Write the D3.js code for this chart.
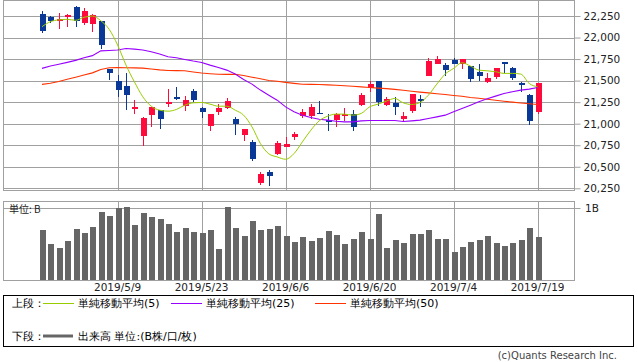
<!DOCTYPE html>
<html>
<head>
<meta charset="utf-8">
<script src="https://cdn.jsdelivr.net/npm/d3@7"></script>
<style>
  body { margin: 0; background: #fff; }
  svg { display: block; }
  text { font-family: "DejaVu Sans", sans-serif; }
  .jp { font-family: "Noto Sans CJK JP", sans-serif; }
</style>
</head>
<body>
<div id="chart"></div>
<script>
// trading days 2019/4/18 - 2019/7/19
var dates = ['4/18','4/19','4/22','4/23','4/24','4/25','4/26','5/7','5/8','5/9',
  '5/10','5/13','5/14','5/15','5/16','5/17','5/20','5/21','5/22','5/23',
  '5/24','5/27','5/28','5/29','5/30','5/31','6/3','6/4','6/5','6/6',
  '6/7','6/10','6/11','6/12','6/13','6/14','6/17','6/18','6/19','6/20',
  '6/21','6/24','6/25','6/26','6/27','6/28','7/1','7/2','7/3','7/4',
  '7/5','7/8','7/9','7/10','7/11','7/12','7/16','7/17','7/18','7/19'];

var opens = [22273,22235,22188,22235,22358,22172,22160,22192,21634,21498,
  21436,21169,20855,21099,21157,21243,21308,21211,21382,21184,
  20975,21138,21177,21052,20870,20785,20308,20436,20653,20727,
  20843,21087,21091,21128,21041,21041,21099,21111,21215,21409,
  21490,21215,21242,21056,21149,21285,21556,21692,21680,21738,
  21692,21669,21603,21483,21544,21715,21645,21469,21331,21138];
var highs = [22308,22250,22281,22273,22370,22343,22273,22192,21634,21564,
  21584,21273,21079,21195,21157,21401,21424,21320,21405,21195,
  21111,21227,21297,21072,20936,20816,20440,20463,20800,20847,
  20901,21169,21227,21258,21111,21126,21177,21157,21355,21494,
  21494,21312,21304,21130,21343,21331,21762,21785,21707,21762,
  21746,21669,21688,21587,21645,21715,21661,21486,21343,21474];
var lows = [22056,22165,22095,22119,22119,22149,22067,21870,21506,21312,
  21157,21110,20742,20963,20936,21195,21273,21149,21253,21068,
  20917,21099,21169,20870,20800,20567,20288,20273,20634,20727,
  20816,21068,21056,21110,20917,20963,21033,20917,21203,21370,
  21203,21203,21099,21033,21119,21195,21556,21692,21552,21692,
  21634,21483,21498,21471,21518,21584,21506,21370,20983,21110];
var closes = [22079,22195,22211,22262,22195,22308,22262,21916,21591,21393,
  21335,21195,21068,21195,21052,21250,21281,21273,21273,21134,
  21111,21184,21265,20998,20936,20591,20416,20390,20777,20770,
  20878,21130,21195,21124,21026,21111,21111,20963,21328,21459,
  21253,21281,21188,21087,21343,21277,21727,21746,21622,21692,
  21746,21518,21552,21525,21645,21688,21533,21465,21033,21467];

var ma5 = [22126,22184,22205,22211,22200,22235,22250,22195,22095,21913,
  21680,21486,21312,21203,21157,21145,21165,21215,21242,21246,
  21227,21203,21203,21157,21099,20963,20770,20650,20614,20587,
  20653,20789,20924,21033,21087,21111,21111,21099,21119,21195,
  21227,21262,21293,21242,21223,21246,21331,21459,21576,21642,
  21707,21669,21622,21614,21603,21584,21584,21576,21467,21428];
var ma25 = [21642,21670,21690,21712,21735,21765,21790,21845,21850,21855,
  21872,21866,21855,21835,21808,21777,21765,21746,21727,21711,
  21680,21653,21622,21576,21514,21459,21390,21331,21273,21195,
  21138,21099,21072,21052,21041,21029,21021,21021,21033,21037,
  21037,21037,21037,21025,21033,21041,21060,21079,21099,21138,
  21177,21215,21254,21289,21320,21351,21370,21390,21401,21421];
var ma50 = [21456,21470,21490,21515,21540,21565,21590,21630,21650,21652,
  21650,21648,21645,21635,21625,21618,21616,21614,21600,21588,
  21580,21574,21572,21574,21560,21540,21522,21502,21492,21480,
  21468,21458,21456,21454,21450,21446,21440,21434,21427,21420,
  21413,21407,21398,21388,21376,21366,21358,21348,21338,21328,
  21318,21304,21295,21284,21272,21260,21250,21240,21232,21223];

// volume, unit B
var volumes = [0.702,0.502,0.451,0.544,0.716,0.656,0.739,0.953,0.897,1.004,
  1.018,0.767,0.939,0.883,0.851,0.781,0.674,0.725,0.674,0.660,
  0.702,0.437,1.018,0.725,0.614,0.823,0.702,0.716,0.753,0.614,
  0.530,0.600,0.544,0.586,0.683,0.628,0.502,0.572,0.669,0.572,
  0.921,0.446,0.558,0.516,0.642,0.642,0.697,0.572,0.572,0.391,
  0.460,0.530,0.558,0.614,0.516,0.474,0.516,0.558,0.725,0.600];

var priceTicks = [20250,20500,20750,21000,21250,21500,21750,22000,22250];
var dateTicks = [9,19,29,39,49,59];
var dateLabels = ['2019/5/9','2019/5/23','2019/6/6','2019/6/20','2019/7/4','2019/7/19'];

var upColor = '#ff0a3c';
var downColor = '#0a3896';
var gridColor = '#a0a0a0';

var width = 638, height = 362;
var left = 3.5, right = 574.5;
var pTop = 0.5, pBottom = 190.5;
var vTop = 201.5, vBottom = 280.5;

var svg = d3.select('#chart').append('svg')
  .attr('width', width)
  .attr('height', height);

var x = d3.scaleLinear().domain([0, dates.length - 1]).range([42, 537.6]);
var y = d3.scaleLinear().domain([20250, 22250]).range([188.3, 16]);
var yv = d3.scaleLinear().domain([0, 1]).range([280, 208.3]);

// ---- price panel
var price = svg.append('g');

price.append('g').selectAll('line')
  .data(priceTicks)
  .enter().append('line')
  .attr('x1', left).attr('x2', right)
  .attr('y1', function(d) { return Math.round(y(d)) + 0.5; })
  .attr('y2', function(d) { return Math.round(y(d)) + 0.5; })
  .attr('stroke', gridColor)
  .attr('shape-rendering', 'crispEdges');

price.append('g').selectAll('line')
  .data(dateTicks)
  .enter().append('line')
  .attr('x1', function(d) { return Math.round(x(d)) + 0.5; })
  .attr('x2', function(d) { return Math.round(x(d)) + 0.5; })
  .attr('y1', pTop).attr('y2', pBottom)
  .attr('stroke', gridColor)
  .attr('shape-rendering', 'crispEdges');

price.append('rect')
  .attr('x', left).attr('y', pTop)
  .attr('width', right - left).attr('height', pBottom - pTop)
  .attr('fill', 'none')
  .attr('stroke', gridColor)
  .attr('shape-rendering', 'crispEdges');

// right axis
var yAxis = d3.axisRight(y)
  .tickValues(priceTicks)
  .tickSize(6)
  .tickPadding(3)
  .tickFormat(d3.format(','));

price.append('g')
  .attr('transform', 'translate(' + right + ',0)')
  .call(yAxis)
  .call(function(g) {
    g.select('.domain').remove();
    g.selectAll('.tick line').attr('stroke', gridColor);
    g.selectAll('.tick text')
      .attr('font-family', 'DejaVu Sans')
      .attr('font-size', 10.5)
      .attr('fill', '#222');
  });

// candles
var candles = price.append('g').selectAll('g')
  .data(dates)
  .enter().append('g');

candles.append('line')
  .attr('x1', function(d, i) { return Math.round(x(i)) + 0.5; })
  .attr('x2', function(d, i) { return Math.round(x(i)) + 0.5; })
  .attr('y1', function(d, i) { return y(highs[i]); })
  .attr('y2', function(d, i) { return y(lows[i]); })
  .attr('stroke', function(d, i) { return closes[i] >= opens[i] ? upColor : downColor; })
  .attr('shape-rendering', 'crispEdges');

candles.append('rect')
  .attr('x', function(d, i) { return Math.round(x(i)) - 2.5; })
  .attr('width', 6)
  .attr('y', function(d, i) { return y(Math.max(opens[i], closes[i])); })
  .attr('height', function(d, i) {
    return Math.max(1.5, Math.abs(y(opens[i]) - y(closes[i])));
  })
  .attr('fill', function(d, i) { return closes[i] >= opens[i] ? upColor : downColor; })
  .attr('shape-rendering', 'crispEdges');

// moving averages
function maLine(values, color, curve, w) {
  var line = d3.line()
    .x(function(d, i) { return x(i); })
    .y(function(d) { return y(d); })
    .curve(curve);
  price.append('path')
    .datum(values)
    .attr('d', line)
    .attr('fill', 'none')
    .attr('stroke', color)
    .attr('stroke-width', w);
}
maLine(ma50, '#ff3300', d3.curveLinear, 1.1);
maLine(ma25, '#9900ff', d3.curveLinear, 1.1);
maLine(ma5, '#99cc00', d3.curveMonotoneX, 1);

// ---- volume panel
var vol = svg.append('g');

vol.append('line')
  .attr('x1', left).attr('x2', right)
  .attr('y1', Math.round(yv(1)) + 0.5).attr('y2', Math.round(yv(1)) + 0.5)
  .attr('stroke', gridColor)
  .attr('shape-rendering', 'crispEdges');

vol.append('g').selectAll('line')
  .data(dateTicks)
  .enter().append('line')
  .attr('x1', function(d) { return Math.round(x(d)) + 0.5; })
  .attr('x2', function(d) { return Math.round(x(d)) + 0.5; })
  .attr('y1', vTop).attr('y2', vBottom)
  .attr('stroke', gridColor)
  .attr('shape-rendering', 'crispEdges');

vol.append('g').selectAll('rect')
  .data(volumes)
  .enter().append('rect')
  .attr('x', function(d, i) { return Math.round(x(i)) - 2.5; })
  .attr('width', 6)
  .attr('y', function(d) { return yv(d); })
  .attr('height', function(d) { return yv(0) - yv(d); })
  .attr('fill', '#666666')
  .attr('shape-rendering', 'crispEdges');

vol.append('rect')
  .attr('x', left).attr('y', vTop)
  .attr('width', right - left).attr('height', vBottom - vTop)
  .attr('fill', 'none')
  .attr('stroke', gridColor)
  .attr('shape-rendering', 'crispEdges');

vol.append('line')
  .attr('x1', right).attr('x2', right + 6)
  .attr('y1', Math.round(yv(1)) + 0.5).attr('y2', Math.round(yv(1)) + 0.5)
  .attr('stroke', gridColor);

vol.append('text')
  .attr('x', 585).attr('y', yv(1))
  .attr('dy', '0.35em')
  .attr('font-size', 10.5)
  .attr('fill', '#222')
  .text('1B');

vol.append('text')
  .attr('class', 'jp')
  .attr('x', 9).attr('y', 213)
  .attr('font-size', 10)
  .attr('fill', '#222')
  .text('単位: B');

// date labels
svg.append('g').selectAll('text')
  .data(dateTicks)
  .enter().append('text')
  .attr('x', function(d) { return x(d); })
  .attr('y', 291)
  .attr('text-anchor', 'middle')
  .attr('font-size', 10.5)
  .attr('fill', '#222')
  .text(function(d, i) { return dateLabels[i]; });

// ---- legend
var legend = svg.append('g').attr('class', 'jp');

legend.append('rect')
  .attr('x', left).attr('y', 295.5)
  .attr('width', 630).attr('height', 50.5)
  .attr('fill', 'none')
  .attr('stroke', '#000')
  .attr('shape-rendering', 'crispEdges');

var legendItems = [
  { x: 43, label: '単純移動平均(5)', color: '#99cc00' },
  { x: 171, label: '単純移動平均(25)', color: '#9900ff' },
  { x: 315, label: '単純移動平均(50)', color: '#ff3300' }
];

legend.append('text')
  .attr('x', 12).attr('y', 307)
  .attr('font-size', 11)
  .text('上段：');

var items = legend.selectAll('g.item')
  .data(legendItems)
  .enter().append('g').attr('class', 'item');

items.append('line')
  .attr('x1', function(d) { return d.x; })
  .attr('x2', function(d) { return d.x + 31; })
  .attr('y1', 303.5).attr('y2', 303.5)
  .attr('stroke', function(d) { return d.color; })
  .attr('shape-rendering', 'crispEdges');

items.append('text')
  .attr('x', function(d) { return d.x + 35; })
  .attr('y', 307)
  .attr('font-size', 11)
  .text(function(d) { return d.label; });

legend.append('text')
  .attr('x', 12).attr('y', 340)
  .attr('font-size', 11)
  .text('下段：');

legend.append('line')
  .attr('x1', 43).attr('x2', 73)
  .attr('y1', 336).attr('y2', 336)
  .attr('stroke', '#666')
  .attr('stroke-width', 3);

legend.append('text')
  .attr('x', 78).attr('y', 340)
  .attr('font-size', 11)
  .text('出来高 単位:(B株/口/枚)');

svg.append('text')
  .attr('x', 617).attr('y', 359)
  .attr('text-anchor', 'end')
  .attr('font-family', 'Open Sans')
  .attr('font-size', 10)
  .attr('fill', '#444')
  .text('(c)Quants Research Inc.');
</script>
</body>
</html>
